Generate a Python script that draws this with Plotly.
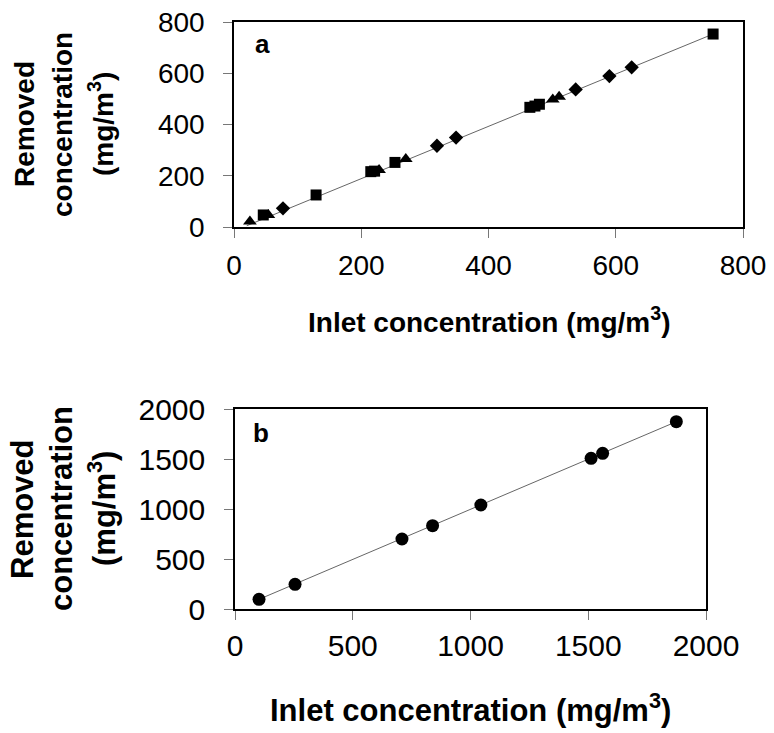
import plotly.graph_objects as go

# ---- Panel a data ----
sq_x = [46, 129, 215, 221, 253, 465, 473, 480, 753]
sq_y = [47, 125, 216, 218, 252, 467, 472, 479, 753]
tri_x = [25, 54, 228, 270, 501, 511]
tri_y = [21, 47, 222, 265, 498, 508]
dia_x = [77, 319, 349, 537, 590, 625]
dia_y = [73, 317, 349, 537, 589, 623]
fit_a_x = [20, 753]
fit_a_y = [5, 753]
ticks_a = [0, 200, 400, 600, 800]

# ---- Panel b data ----
circ_x = [102, 255, 709, 839, 1044, 1512, 1561, 1874]
circ_y = [97, 247, 700, 833, 1040, 1507, 1557, 1873]
fit_b_x = [102, 1874]
fit_b_y = [97, 1873]
ticks_b = [0, 500, 1000, 1500, 2000]

W, H = 774, 733
FONT = "Liberation Sans, Arial, sans-serif"

def px(x):
    return x / W

def py(y):
    return 1 - y / H

fig = go.Figure()

line_style = dict(color="#666666", width=1)
fig.add_trace(go.Scatter(x=fit_a_x, y=fit_a_y, mode="lines", line=line_style,
                         xaxis="x", yaxis="y", showlegend=False, hoverinfo="skip"))
fig.add_trace(go.Scatter(x=sq_x, y=sq_y, mode="markers",
                         marker=dict(symbol="square", size=11, color="black"),
                         xaxis="x", yaxis="y", showlegend=False, cliponaxis=False))
fig.add_trace(go.Scatter(x=tri_x, y=tri_y, mode="markers",
                         marker=dict(symbol="triangle-up", size=12, color="black"),
                         xaxis="x", yaxis="y", showlegend=False, cliponaxis=False))
fig.add_trace(go.Scatter(x=dia_x, y=dia_y, mode="markers",
                         marker=dict(symbol="diamond", size=11, color="black"),
                         xaxis="x", yaxis="y", showlegend=False, cliponaxis=False))

fig.add_trace(go.Scatter(x=fit_b_x, y=fit_b_y, mode="lines", line=line_style,
                         xaxis="x2", yaxis="y2", showlegend=False, hoverinfo="skip"))
fig.add_trace(go.Scatter(x=circ_x, y=circ_y, mode="markers",
                         marker=dict(symbol="circle", size=13, color="black"),
                         xaxis="x2", yaxis="y2", showlegend=False, cliponaxis=False))

axis_common = dict(showgrid=False, zeroline=False, showline=True, linecolor="black",
                   linewidth=1.5, mirror=True, ticks="outside", ticklen=9,
                   tickcolor="#777777", tickwidth=1, automargin=False)

fig.update_layout(
    width=W, height=H,
    margin=dict(l=0, r=0, t=0, b=0, pad=0),
    paper_bgcolor="white", plot_bgcolor="white",
    font=dict(family=FONT, color="black"),
    xaxis=dict(domain=[px(234), px(743)], range=[0, 800], tickvals=ticks_a,
               anchor="y", tickfont=dict(size=28), ticklabelstandoff=4, **axis_common),
    yaxis=dict(domain=[py(227), py(22)], range=[0, 800], tickvals=ticks_a,
               anchor="x", tickfont=dict(size=28), ticklabelstandoff=13, **axis_common),
    xaxis2=dict(domain=[px(235), px(706)], range=[0, 2000], tickvals=ticks_b,
                anchor="y2", tickfont=dict(size=30), ticklabelstandoff=0, **axis_common),
    yaxis2=dict(domain=[py(609), py(409)], range=[0, 2000], tickvals=ticks_b,
                anchor="x2", tickfont=dict(size=30), ticklabelstandoff=13, **axis_common),
)

ann = []
def add_text(text, x, y, size, angle=0):
    ann.append(dict(text=text, x=px(x), y=py(y), xref="paper", yref="paper",
                    showarrow=False, textangle=angle, xanchor="center", yanchor="middle",
                    font=dict(family=FONT, size=size, color="black")))

# Panel a titles
add_text("<b>Removed</b>", 24, 124, 28, -90)
add_text("<b>concentration</b>", 62, 124, 28, -90)
add_text("<b>(mg/m<sup>3</sup>)</b>", 101, 124, 28, -90)
add_text("<b>Inlet concentration (mg/m<sup>3</sup>)</b>", 489, 320, 28)
add_text("<b>a</b>", 262, 44, 26)

# Panel b titles
add_text("<b>Removed</b>", 22, 509, 31, -90)
add_text("<b>concentration</b>", 61, 509, 31, -90)
add_text("<b>(mg/m<sup>3</sup>)</b>", 102, 509, 31, -90)
add_text("<b>Inlet concentration (mg/m<sup>3</sup>)</b>", 470, 708, 31)
add_text("<b>b</b>", 261, 433, 26)

fig.update_layout(annotations=ann)

fig.write_html("out.html")
